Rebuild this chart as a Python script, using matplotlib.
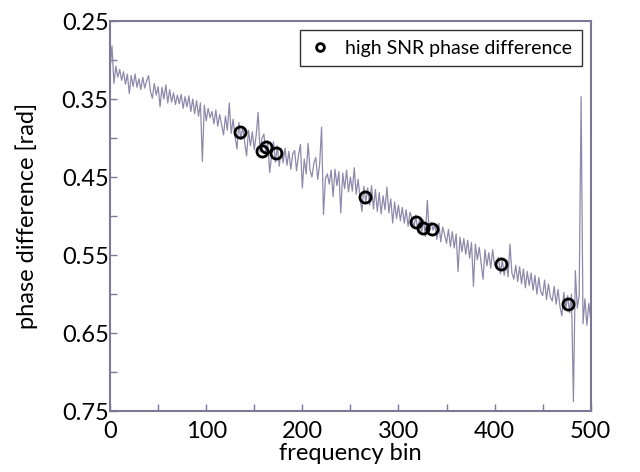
import numpy as np
import matplotlib
matplotlib.use("Agg")
import matplotlib.pyplot as plt
from matplotlib.ticker import MultipleLocator

plt.rcParams['font.family'] = ['Lato', 'DejaVu Sans']

# phase difference, every second frequency bin (0..500)
bins = np.arange(0, 501, 2)
phase = [
    0.312, 0.282, 0.330, 0.308, 0.322, 0.312, 0.326, 0.315, 0.331, 0.318,
    0.343, 0.320, 0.334, 0.318, 0.335, 0.324, 0.338, 0.322, 0.336, 0.327,
    0.320, 0.340, 0.349, 0.330, 0.345, 0.334, 0.360, 0.335, 0.350, 0.332,
    0.355, 0.338, 0.354, 0.342, 0.357, 0.345, 0.356, 0.344, 0.362, 0.347,
    0.360, 0.346, 0.366, 0.350, 0.369, 0.352, 0.372, 0.355, 0.430, 0.358,
    0.378, 0.362, 0.374, 0.366, 0.382, 0.364, 0.385, 0.370, 0.383, 0.396,
    0.372, 0.390, 0.355, 0.394, 0.376, 0.398, 0.414, 0.380, 0.402, 0.385,
    0.405, 0.423, 0.390, 0.410, 0.392, 0.415, 0.396, 0.367, 0.418, 0.400,
    0.395, 0.420, 0.404, 0.444, 0.423, 0.405, 0.431, 0.410, 0.436, 0.414,
    0.432, 0.413, 0.435, 0.417, 0.440, 0.420, 0.416, 0.442, 0.422, 0.408,
    0.464, 0.427, 0.446, 0.407, 0.441, 0.450, 0.432, 0.425, 0.453, 0.434,
    0.386, 0.498, 0.452, 0.446, 0.459, 0.441, 0.475, 0.440, 0.461, 0.443,
    0.496, 0.445, 0.465, 0.441, 0.469, 0.450, 0.468, 0.438, 0.472, 0.453,
    0.476, 0.494, 0.462, 0.482, 0.464, 0.486, 0.461, 0.491, 0.466, 0.494,
    0.470, 0.497, 0.474, 0.492, 0.463, 0.496, 0.478, 0.509, 0.482, 0.503,
    0.486, 0.506, 0.489, 0.509, 0.492, 0.513, 0.495, 0.503, 0.515, 0.499,
    0.519, 0.503, 0.522, 0.505, 0.526, 0.480, 0.520, 0.508, 0.518, 0.511,
    0.530, 0.509, 0.533, 0.514, 0.524, 0.535, 0.517, 0.539, 0.520, 0.541,
    0.523, 0.571, 0.527, 0.546, 0.529, 0.549, 0.531, 0.554, 0.534, 0.590,
    0.536, 0.556, 0.540, 0.561, 0.581, 0.543, 0.564, 0.547, 0.567, 0.543,
    0.563, 0.559, 0.553, 0.574, 0.556, 0.576, 0.558, 0.578, 0.536, 0.573,
    0.581, 0.563, 0.584, 0.565, 0.587, 0.568, 0.592, 0.571, 0.589, 0.573,
    0.595, 0.576, 0.600, 0.579, 0.597, 0.602, 0.582, 0.607, 0.587, 0.604,
    0.609, 0.590, 0.613, 0.594, 0.616, 0.628, 0.598, 0.619, 0.602, 0.624,
    0.600, 0.738, 0.570, 0.618, 0.602, 0.347, 0.638, 0.606, 0.640, 0.612,
    0.632,
]

# high SNR points
snr_bins = [135, 158, 162, 173, 265, 318, 326, 335, 407, 476]
snr_phase = [0.392, 0.416, 0.412, 0.419, 0.476, 0.507, 0.515, 0.517, 0.561, 0.613]

axcol = '#7d7896'
linecol = '#8f89ab'

fig = plt.figure(figsize=(6.4, 4.72), dpi=100)
ax = fig.add_axes([0.172, 0.129, 0.751, 0.8265])

ax.plot(bins, phase, color=linecol, lw=0.9)
ax.plot(snr_bins, snr_phase, 'o', mfc='none', mec='black', mew=2.0, ms=8,
        label='high SNR phase difference')

ax.set_xlim(0, 500)
ax.set_ylim(0.75, 0.25)

ax.xaxis.set_major_locator(MultipleLocator(100))
ax.xaxis.set_minor_locator(MultipleLocator(50))
ax.yaxis.set_minor_locator(MultipleLocator(0.05))
ax.set_yticks(np.arange(0.25, 0.76, 0.1))
ax.set_yticklabels(['0.25', '0.35', '0.45', '0.55', '0.65', '0.75'])

ax.tick_params(which='both', direction='in', color=axcol, width=1.0,
               top=False, right=False, labelsize=17, length=5)
ax.tick_params(axis='y', pad=1)
ax.tick_params(axis='x', pad=7)

for s in ax.spines.values():
    s.set_color(axcol)
    s.set_linewidth(1.5)

ax.set_xlabel('frequency bin', fontsize=17, labelpad=1)
ax.set_ylabel('phase difference [rad]', fontsize=17, labelpad=17)

leg = ax.legend(loc='upper right', fontsize=14, frameon=True, fancybox=False,
                handlelength=1.0, handletextpad=0.8, borderpad=0.5,
                markerscale=0.7, borderaxespad=0, bbox_to_anchor=(0.981, 0.977))
leg.get_frame().set_edgecolor('black')
leg.get_frame().set_linewidth(1.0)

fig.savefig('out.png', dpi=100)
